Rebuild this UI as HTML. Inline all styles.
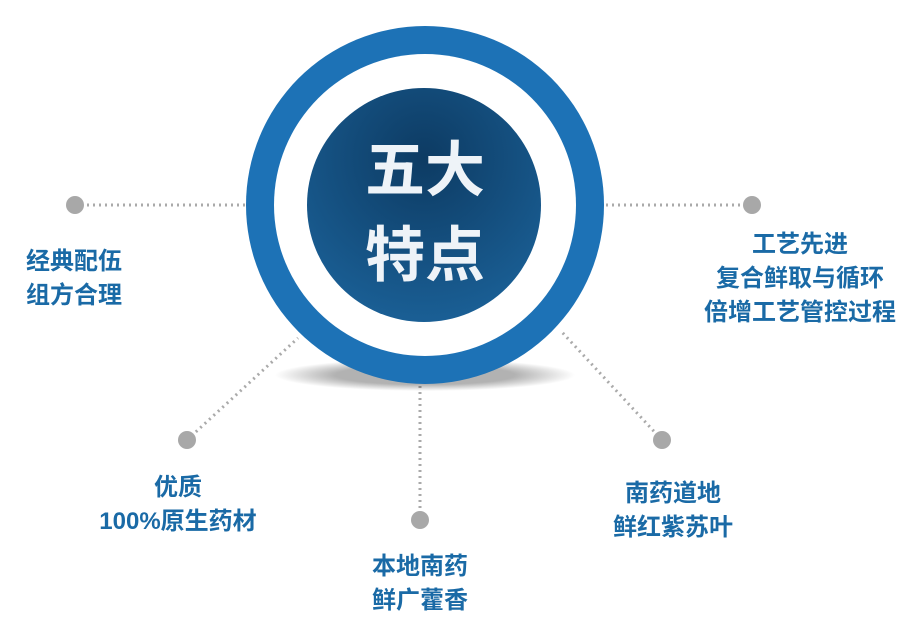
<!DOCTYPE html>
<html><head><meta charset="utf-8"><style>
body{margin:0;width:924px;height:627px;background:#fff;overflow:hidden;position:relative;font-family:"Liberation Sans","Noto Sans CJK SC",sans-serif}
.t{position:absolute;color:#1a6aa6;font-weight:bold;font-size:24px;line-height:34px;text-align:center;white-space:nowrap}
</style></head><body>
<svg width="924" height="627" style="position:absolute;left:0;top:0">
<defs>
<radialGradient id="g" cx="50%" cy="30%" r="70%"><stop offset="0" stop-color="#0d3b63"/><stop offset="1" stop-color="#1a5f95"/></radialGradient>
<radialGradient id="sh" cx="50%" cy="50%" r="50%"><stop offset="0.6" stop-color="#000" stop-opacity="0.3"/><stop offset="1" stop-color="#000" stop-opacity="0"/></radialGradient>
</defs>
<g stroke="#aaa" stroke-width="3" stroke-dasharray="2 4" fill="none">
<line x1="75" y1="205" x2="250" y2="205"/>
<line x1="600" y1="205" x2="752" y2="205"/>
<line x1="187" y1="440" x2="298" y2="338"/>
<line x1="420" y1="520" x2="420" y2="385"/>
<line x1="662" y1="440" x2="560" y2="330"/>
</g>
<g fill="#a8a8a8">
<circle cx="75" cy="205" r="9"/><circle cx="752" cy="205" r="9"/>
<circle cx="187" cy="440" r="9"/><circle cx="420" cy="520" r="9"/><circle cx="662" cy="440" r="9"/>
</g>
<ellipse cx="425" cy="375" rx="150" ry="16" fill="url(#sh)"/>
<circle cx="425" cy="205" r="179" fill="#1d72b6"/>
<circle cx="425" cy="205" r="151" fill="#fff"/>
<circle cx="424" cy="205" r="117" fill="url(#g)"/>
<text x="425" y="191" text-anchor="middle" fill="#eef3f8" font-size="60" font-weight="bold" font-family="Liberation Sans,Noto Sans CJK SC,sans-serif">五大</text>
<text x="425" y="276" text-anchor="middle" fill="#eef3f8" font-size="60" font-weight="bold" font-family="Liberation Sans,Noto Sans CJK SC,sans-serif">特点</text>
</svg>
<div class="t" style="left:26px;top:245px;text-align:left">经典配伍<br>组方合理</div>
<div class="t" style="left:680px;top:228px;width:240px">工艺先进<br>复合鲜取与循环<br>倍增工艺管控过程</div>
<div class="t" style="left:78px;top:471px;width:200px">优质<br>100%原生药材</div>
<div class="t" style="left:340px;top:550px;width:160px">本地南药<br>鲜广藿香</div>
<div class="t" style="left:593px;top:477px;width:160px">南药道地<br>鲜红紫苏叶</div>
</body></html>
